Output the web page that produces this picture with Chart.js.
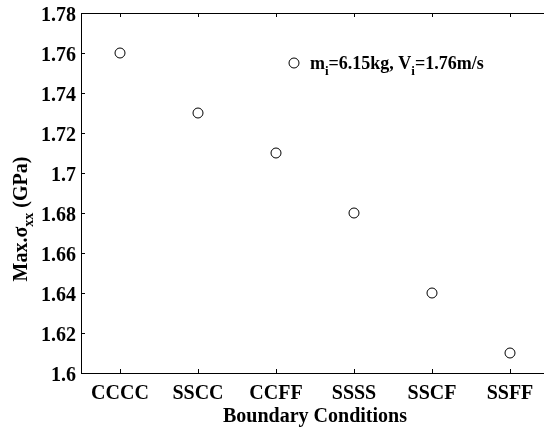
<!DOCTYPE html>
<html>
<head>
<meta charset="utf-8">
<script src="https://cdn.jsdelivr.net/npm/chart.js@4.4.1/dist/chart.umd.min.js"></script>
<style>
html, body { margin: 0; padding: 0; background: #fff; overflow: hidden; }
canvas { display: block; }
</style>
</head>
<body>
<canvas id="chart" width="560" height="434"></canvas>
<script>
// values
const categories = ['CCCC', 'SSCC', 'CCFF', 'SSSS', 'SSCF', 'SSFF'];
const maxStress = [1.76, 1.73, 1.71, 1.68, 1.64, 1.61];
const yTicks = [1.6, 1.62, 1.64, 1.66, 1.68, 1.7, 1.72, 1.74, 1.76, 1.78];
const legendParts = [['m', ''], ['i', 'sub'], ['=6.15kg, V', ''], ['i', 'sub'], ['=1.76m/s', '']];
const yTitleParts = [['Max.\u03c3', ''], ['xx', 'sub'], [' (GPa)', '']];

const FONT = 'Liberation Serif';
const points = maxStress.map((v, i) => ({ x: i + 1, y: v }));

function drawParts(ctx, parts, x, y, size) {
    parts.forEach(([txt, kind]) => {
        const s = kind === 'sub' ? Math.round(size * 0.7) : size;
        ctx.font = 'bold ' + s + 'px "' + FONT + '"';
        ctx.fillText(txt, x, kind === 'sub' ? y + 6 : y);
        x += ctx.measureText(txt).width;
    });
}

function partsWidth(ctx, parts, size) {
    let w = 0;
    parts.forEach(([txt, kind]) => {
        ctx.font = 'bold ' + (kind === 'sub' ? Math.round(size * 0.7) : size) + 'px "' + FONT + '"';
        w += ctx.measureText(txt).width;
    });
    return w;
}

const framePlugin = {
    id: 'frame',
    afterDraw(chart) {
        const { ctx, chartArea: a, scales } = chart;
        ctx.save();
        ctx.strokeStyle = '#000';
        ctx.lineWidth = 1;
        ctx.beginPath();
        ctx.moveTo(a.left + 0.5, a.top + 0.5);
        ctx.lineTo(a.right, a.top + 0.5);
        ctx.moveTo(a.left + 0.5, a.top);
        ctx.lineTo(a.left + 0.5, a.bottom + 0.5);
        ctx.lineTo(a.right, a.bottom + 0.5);
        scales.x.ticks.forEach(t => {
            const px = Math.round(scales.x.getPixelForValue(t.value)) + 0.5;
            ctx.moveTo(px, a.bottom); ctx.lineTo(px, a.bottom - 4);
            ctx.moveTo(px, a.top); ctx.lineTo(px, a.top + 4);
        });
        scales.y.ticks.forEach(t => {
            const py = Math.round(scales.y.getPixelForValue(t.value)) + 0.5;
            ctx.moveTo(a.left, py); ctx.lineTo(a.left + 4, py);
        });
        ctx.stroke();

        // legend inside the plot
        const lx = a.left + 213, ly = a.top + 50;
        ctx.beginPath();
        ctx.arc(lx, ly, 5, 0, Math.PI * 2);
        ctx.stroke();
        ctx.fillStyle = '#000';
        ctx.textBaseline = 'alphabetic';
        drawParts(ctx, legendParts, lx + 16, ly + 6, 18);

        // y axis title with subscript
        ctx.translate(20, (a.top + a.bottom) / 2 + 26);
        ctx.rotate(-Math.PI / 2);
        const w = partsWidth(ctx, yTitleParts, 20);
        drawParts(ctx, yTitleParts, -w / 2, 7, 20);
        ctx.restore();
    }
};

new Chart(document.getElementById('chart').getContext('2d'), {
    type: 'scatter',
    data: {
        datasets: [{
            label: 'Max stress',
            data: points,
            pointStyle: 'circle',
            pointRadius: 5,
            pointBackgroundColor: 'rgba(0,0,0,0)',
            pointBorderColor: '#000',
            pointBorderWidth: 1
        }]
    },
    options: {
        responsive: false,
        animation: false,
        layout: { padding: { top: 13, right: 11, left: 0, bottom: 0 } },
        plugins: { legend: { display: false }, tooltip: { enabled: false } },
        scales: {
            x: {
                type: 'linear',
                min: 0.5,
                max: 6.5,
                grid: { display: false, drawTicks: false },
                border: { display: false },
                afterBuildTicks: s => { s.ticks = categories.map((c, i) => ({ value: i + 1 })); },
                afterFit: s => { s.height = 61; s.paddingLeft = 0; s.paddingRight = 0; },
                ticks: {
                    color: '#000',
                    padding: 9,
                    maxRotation: 0,
                    autoSkip: false,
                    font: { family: FONT, weight: 'bold', size: 20 },
                    callback: v => categories[v - 1]
                },
                title: {
                    display: true,
                    text: 'Boundary Conditions',
                    color: '#000',
                    padding: { top: 0, bottom: 5 },
                    font: { family: FONT, weight: 'bold', size: 20 }
                }
            },
            y: {
                min: 1.6,
                max: 1.78,
                grid: { display: false, drawTicks: false },
                border: { display: false },
                afterBuildTicks: s => { s.ticks = yTicks.map(v => ({ value: v })); },
                afterFit: s => { s.width = 81; s.paddingTop = 0; s.paddingBottom = 0; },
                ticks: {
                    color: '#000',
                    padding: 5,
                    labelOffset: 3,
                    font: { family: FONT, weight: 'bold', size: 20 },
                    callback: v => String(Number(v.toFixed(2)))
                }
            }
        }
    },
    plugins: [framePlugin]
});
</script>
</body>
</html>
